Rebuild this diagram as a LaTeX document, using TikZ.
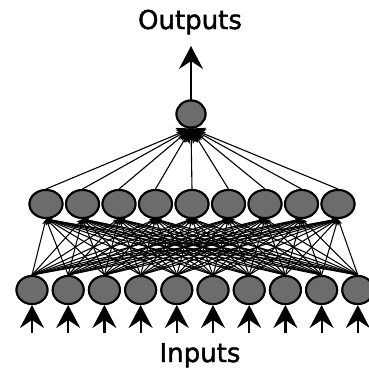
\documentclass[tikz,border=0pt]{standalone}
\usepackage{fontspec}
\setmainfont{DejaVu Sans}
\newfontfamily\lblfont[FakeBold=1.5]{DejaVu Sans}
\usetikzlibrary{shapes.geometric,arrows.meta}
\definecolor{nodegray}{RGB}{108,108,108}
\begin{document}
\begin{tikzpicture}[x=1pt,y=-1pt,
  neuron/.style={ellipse,draw=black,line width=2pt,fill=nodegray,inner sep=0pt},
  inneuron/.style={neuron,minimum width=31pt,minimum height=28pt},
  hidneuron/.style={neuron,minimum width=33pt,minimum height=28pt},
  outneuron/.style={neuron,minimum width=29pt,minimum height=27pt},
  dense/.style={line width=1.05pt,-{Stealth[length=6pt,width=5pt]}},
  toout/.style={line width=1.1pt,-{Stealth[length=14pt,width=13pt,inset=3pt]}},
  bigarrow/.style={line width=2.2pt,-{Stealth[length=23pt,width=24pt,inset=8pt]}},
  label/.style={font=\lblfont\fontsize{26}{30}\selectfont,inner sep=0pt,anchor=base}]
\useasboundingbox (0,0) rectangle (369,372);
% input layer
\foreach \i in {0,...,9}{
  \node[inneuron] (in\i) at ({32+36.2*\i},290) {};
  \coordinate (src\i) at ({32+36.2*\i},333);
}
% hidden layer
\foreach \j in {0,...,8}{
  \node[hidneuron] (h\j) at ({46+36.5*\j},204) {};
}
% output
\node[outneuron] (out) at (191,114) {};
\coordinate (outtip) at (191,46);
% input -> hidden
\foreach \i in {0,...,9}{
  \foreach \j in {0,...,8}{
    \draw[dense] (in\i.north) -- (h\j.south);
  }
}
% hidden -> output
\foreach \j in {0,...,8}{
  \draw[toout] (h\j.north) -- (out.south);
}
% redraw nodes on top
\foreach \i in {0,...,9}{
  \node[inneuron] at (in\i) {};
  \draw[bigarrow] (src\i) -- (in\i.south);
}
\foreach \j in {0,...,8}{
  \node[hidneuron] at (h\j) {};
}
\node[outneuron] at (out) {};
\draw[bigarrow] (out.north) -- (outtip);
% labels
\node[label] (outlbl) at (190,29) {Outputs};
\node[label] (inlbl) at (200,362) {Inputs};
\end{tikzpicture}
\end{document}
